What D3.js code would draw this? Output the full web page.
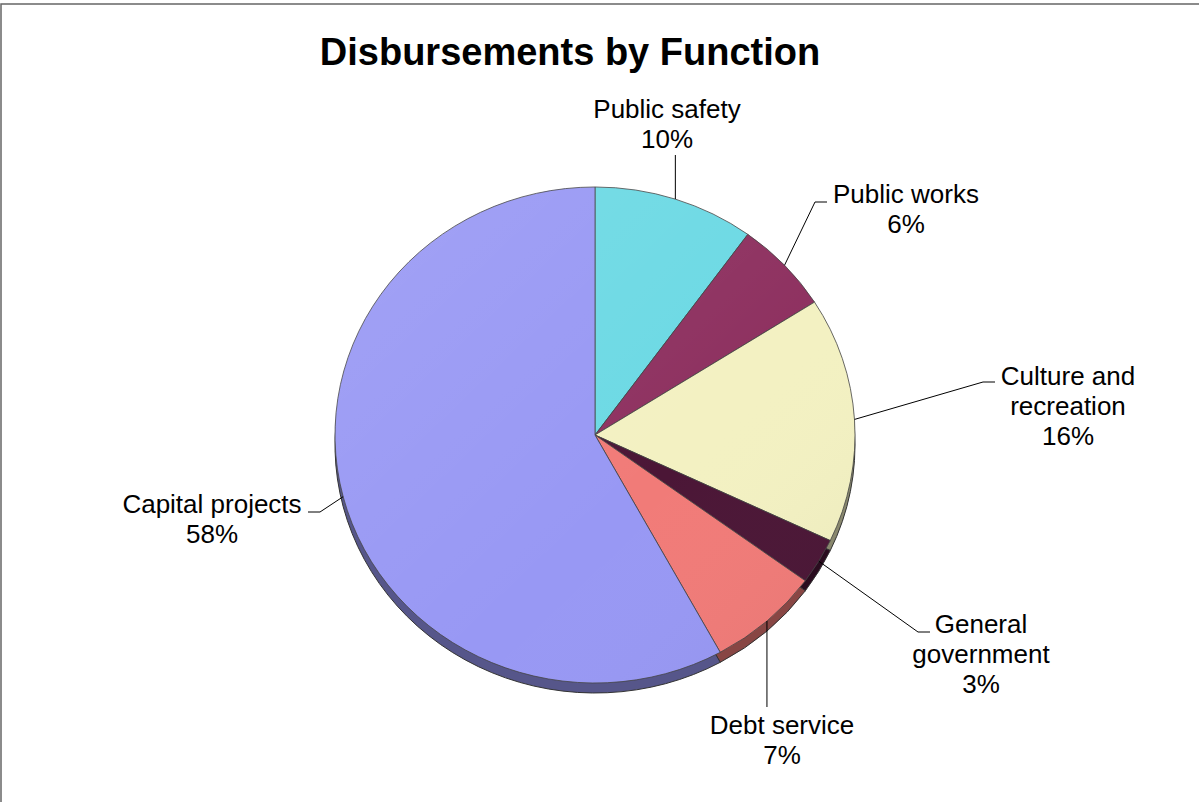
<!DOCTYPE html>
<html>
<head>
<meta charset="utf-8">
<script src="https://cdn.jsdelivr.net/npm/d3@7/dist/d3.min.js"></script>
<style>
  body { margin: 0; background: #fff; }
  svg { display: block; font-family: "Liberation Sans", Arial, sans-serif; }
</style>
</head>
<body>
<svg id="chart" width="1199" height="802"></svg>
<script>
// data, clockwise from 12 o'clock
var categories = ["Public safety", "Public works", "Culture and recreation", "General government", "Debt service", "Capital projects"];
var shares = [10, 6, 16, 3, 7, 58];
var labelLines = [
    ["Public safety"],
    ["Public works"],
    ["Culture and", "recreation"],
    ["General", "government"],
    ["Debt service"],
    ["Capital projects"]
];
var colors = ["#6cd9e4", "#8e3160", "#f3f1c2", "#4b1636", "#f17b78", "#9898f4"];

// label placement (text center, first baseline, leader elbow/end)
var LABEL_LAYOUT = [
    { tx: 667, ty: 118, elbow: null, end: [null, 155] },
    { tx: 906, ty: 203, elbow: [815, 202], end: [827, 202] },
    { tx: 1068, ty: 385, elbow: [983, 382], end: [995, 382] },
    { tx: 981, ty: 633, elbow: [918, 632], end: [930, 632] },
    { tx: 782, ty: 734, elbow: null, end: [null, 707] },
    { tx: 212, ty: 513, elbow: [320, 512], end: [308, 512] }
];

var PIE = {
    CX: 595,
    CY: 435,
    RX: 260,
    RY: 248,
    DEPTH: 10,
    LINE_H: 30
};

var svg = d3.select("#chart");

// frame
svg.append("rect")
    .attr("x", 1).attr("y", 4)
    .attr("width", 1400).attr("height", 1000)
    .attr("fill", "none")
    .attr("stroke", "#666")
    .attr("stroke-width", 1.5);

svg.append("text")
    .attr("x", 570).attr("y", 65)
    .attr("text-anchor", "middle")
    .attr("font-size", 38)
    .attr("font-weight", "bold")
    .attr("fill", "#000")
    .text("Disbursements by Function");

var pie = d3.pie().sort(null).value(function (d) { return d; });
var slices = pie(shares);
var arc = d3.arc().innerRadius(0).outerRadius(PIE.RX);
var scaleY = PIE.RY / PIE.RX;

var defs = svg.append("defs");
var grad = defs.append("linearGradient")
    .attr("id", "shine")
    .attr("x1", "0").attr("y1", "0").attr("x2", "1").attr("y2", "1");
grad.append("stop").attr("offset", "0").attr("stop-color", "#fff").attr("stop-opacity", 0.1);
grad.append("stop").attr("offset", "0.6").attr("stop-color", "#fff").attr("stop-opacity", 0);
grad.append("stop").attr("offset", "1").attr("stop-color", "#000").attr("stop-opacity", 0.05);

// side / depth
var gSide = svg.append("g")
    .attr("transform", "translate(" + PIE.CX + "," + (PIE.CY + PIE.DEPTH) + ") scale(1," + scaleY + ")");
gSide.selectAll("path")
    .data(slices)
    .join("path")
    .attr("d", arc)
    .attr("fill", function (d, i) { return d3.color(colors[i]).darker(1.6); })
    .attr("stroke", "#333")
    .attr("stroke-width", 1)
    .attr("vector-effect", "non-scaling-stroke");

// top face
var gTop = svg.append("g")
    .attr("transform", "translate(" + PIE.CX + "," + PIE.CY + ") scale(1," + scaleY + ")");
gTop.selectAll("path.slice")
    .data(slices)
    .join("path")
    .attr("class", "slice")
    .attr("d", arc)
    .attr("fill", function (d, i) { return colors[i]; })
    .attr("stroke", "#444")
    .attr("stroke-width", 1)
    .attr("stroke-opacity", 0.8)
    .attr("vector-effect", "non-scaling-stroke");
gTop.append("circle")
    .attr("r", PIE.RX)
    .attr("fill", "url(#shine)")
    .attr("pointer-events", "none");

// leader lines and labels
var gLab = svg.append("g");
slices.forEach(function (d, i) {
    var lay = LABEL_LAYOUT[i];
    var a = (d.startAngle + d.endAngle) / 2;
    var sx = PIE.CX + PIE.RX * Math.sin(a);
    var sy = PIE.CY - PIE.RY * Math.cos(a);
    var pts = [[sx, sy]];
    if (lay.elbow) pts.push(lay.elbow);
    pts.push([lay.end[0] == null ? sx : lay.end[0], lay.end[1]]);

    gLab.append("path")
        .attr("d", d3.line()(pts))
        .attr("fill", "none")
        .attr("stroke", "#000")
        .attr("stroke-width", 1);

    var lines = labelLines[i].concat([shares[i] + "%"]);
    var t = gLab.append("text")
        .attr("text-anchor", "middle")
        .attr("font-size", 26)
        .attr("fill", "#000");
    lines.forEach(function (s, k) {
        t.append("tspan")
            .attr("x", lay.tx)
            .attr("y", lay.ty + k * PIE.LINE_H)
            .text(s);
    });
});
</script>
</body>
</html>
